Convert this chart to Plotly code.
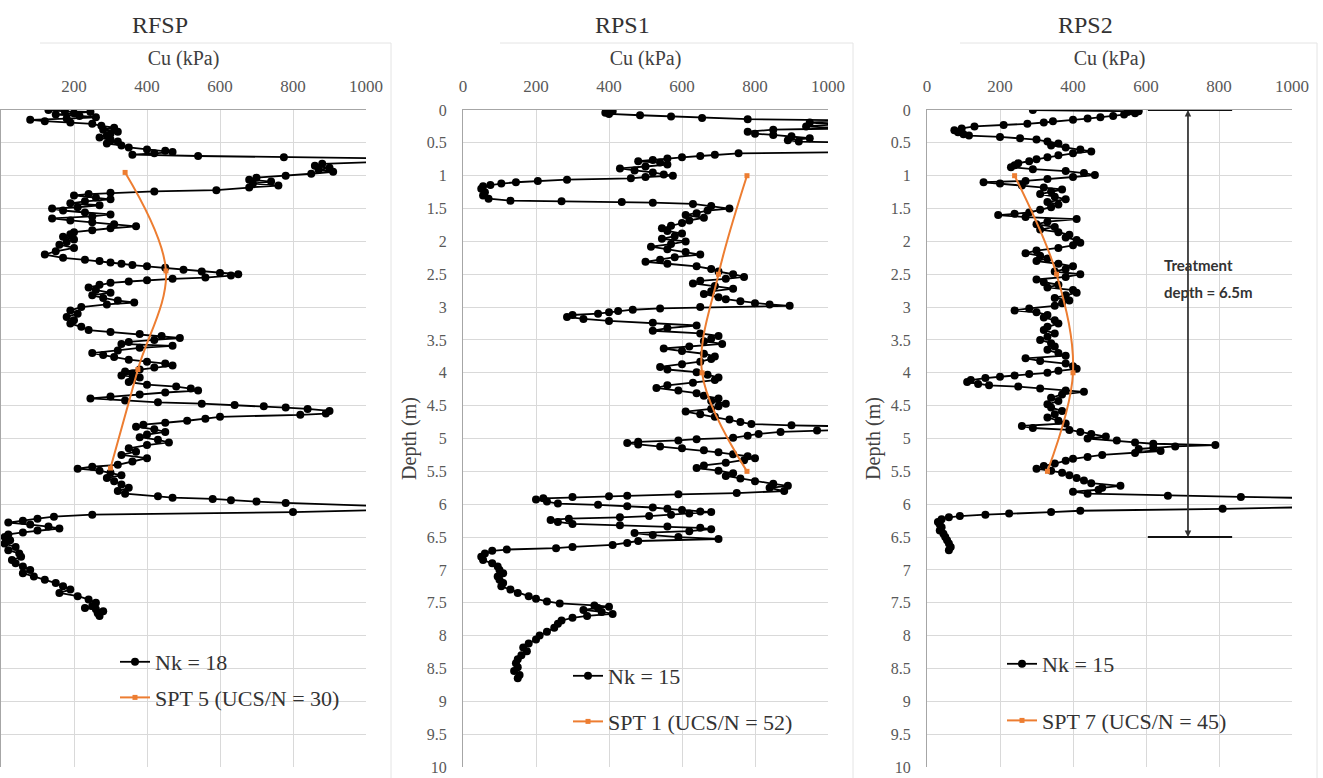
import plotly.graph_objects as go

# ---------------- DATA ----------------
panel_titles = ["RFSP", "RPS1", "RPS2"]
x_title = "Cu (kPa)"
y_title = "Depth (m)"

# RFSP  (Nk = 18)
rfsp_depth = [0.00,0.02,0.03,0.05,0.07,0.09,0.11,0.13,0.15,0.17,0.19,0.21,0.24,0.27,0.30,0.33,0.36,0.39,0.42,0.45,
              0.48,0.51,0.54,0.57,0.60,0.62,0.64,0.66,0.68,0.70,0.72,0.74,0.78,0.82,0.85,0.88,0.91,0.94,0.97,1.00,
              1.03,1.06,1.09,1.12,1.15,1.18,1.22,1.24,1.26,1.28,1.30,1.33,1.36,1.39,1.42,1.45,1.48,1.50,1.53,1.56,
              1.59,1.62,1.65,1.68,1.71,1.74,1.77,1.80,1.83,1.86,1.89,1.93,1.97,2.01,2.05,2.10,2.15,2.20,2.25,2.28,
              2.30,2.32,2.34,2.36,2.38,2.40,2.43,2.46,2.48,2.50,2.52,2.55,2.57,2.59,2.61,2.63,2.66,2.70,2.74,2.78,
              2.82,2.86,2.90,2.93,2.96,3.00,3.05,3.10,3.15,3.20,3.25,3.30,3.35,3.38,3.41,3.44,3.47,3.50,3.53,3.56,
              3.59,3.62,3.66,3.70,3.73,3.76,3.80,3.83,3.86,3.89,3.92,3.95,3.98,4.01,4.04,4.07,4.10,4.14,4.18,4.21,
              4.24,4.27,4.30,4.33,4.36,4.39,4.42,4.45,4.47,4.49,4.51,4.53,4.55,4.58,4.62,4.64,4.67,4.70,4.73,4.76,
              4.79,4.82,4.86,4.90,4.94,4.98,5.02,5.06,5.10,5.15,5.20,5.25,5.30,5.35,5.40,5.43,5.46,5.49,5.52,5.56,
              5.60,5.65,5.70,5.75,5.80,5.84,5.88,5.90,5.92,5.94,5.96,5.98,6.04,6.08,6.12,6.16,6.19,6.22,6.25,6.28,
              6.31,6.34,6.37,6.40,6.43,6.46,6.50,6.55,6.60,6.65,6.70,6.75,6.80,6.85,6.90,6.95,7.00,7.05,7.10,7.15,
              7.20,7.25,7.30,7.35,7.40,7.45,7.50,7.55,7.58,7.60,7.63,7.66,7.70]
rfsp_cu = [130,175,245,200,150,215,260,180,80,120,190,250,275,310,280,320,300,290,270,300,
           320,290,330,350,400,450,470,420,360,540,775,1100,1100,880,860,900,870,910,850,780,
           700,680,740,690,760,680,590,420,300,240,200,260,300,230,190,270,210,140,170,230,
           300,250,140,190,250,310,370,300,250,200,190,170,200,180,160,200,150,120,170,230,
           270,300,330,360,400,450,500,550,600,650,630,560,470,400,350,300,270,240,260,300,
           250,280,320,365,290,220,190,210,180,200,190,220,240,300,380,440,490,420,350,330,
           470,380,320,250,280,310,350,400,450,470,420,380,340,360,330,380,360,350,400,480,
           520,540,450,380,300,245,340,430,550,640,720,780,840,900,890,820,600,560,510,450,
           390,370,420,450,400,380,430,460,400,350,370,330,400,360,320,250,210,270,300,330,
           290,310,330,350,320,340,430,470,580,630,700,780,1100,1100,800,250,145,100,60,20,
           80,130,160,100,60,20,10,25,10,40,20,50,55,30,40,60,80,60,90,120,
           150,170,190,160,210,240,260,250,230,260,280,265,270]

# RPS1  (Nk = 15)
rps1_depth = [0.00,0.02,0.04,0.06,0.08,0.10,0.12,0.14,0.16,0.19,0.22,0.25,0.28,0.30,0.33,0.36,0.38,0.40,0.43,0.46,
              0.48,0.50,0.55,0.60,0.64,0.66,0.68,0.70,0.72,0.74,0.76,0.78,0.80,0.83,0.86,0.89,0.92,0.95,0.98,1.00,
              1.02,1.04,1.06,1.08,1.10,1.12,1.14,1.16,1.20,1.25,1.30,1.35,1.38,1.39,1.40,1.41,1.43,1.46,1.50,1.53,
              1.57,1.60,1.64,1.68,1.72,1.76,1.80,1.84,1.88,1.92,1.96,2.00,2.04,2.08,2.12,2.16,2.20,2.24,2.28,2.31,
              2.34,2.38,2.42,2.46,2.50,2.54,2.57,2.60,2.64,2.68,2.72,2.76,2.80,2.85,2.88,2.91,2.94,2.96,2.98,3.00,
              3.02,3.04,3.06,3.08,3.10,3.12,3.15,3.18,3.21,3.24,3.28,3.32,3.36,3.40,3.44,3.48,3.52,3.56,3.60,3.63,
              3.67,3.71,3.75,3.79,3.83,3.87,3.91,3.95,3.99,4.03,4.07,4.11,4.15,4.19,4.23,4.27,4.31,4.35,4.39,4.43,
              4.47,4.51,4.55,4.59,4.63,4.67,4.71,4.75,4.78,4.80,4.82,4.86,4.88,4.90,4.93,4.96,4.99,5.01,5.03,5.05,
              5.07,5.09,5.12,5.15,5.18,5.21,5.24,5.27,5.30,5.33,5.37,5.41,5.45,5.49,5.53,5.57,5.61,5.65,5.69,5.72,
              5.75,5.80,5.83,5.85,5.87,5.88,5.89,5.91,5.93,5.96,5.99,6.01,6.03,6.05,6.07,6.09,6.11,6.12,6.14,6.16,
              6.18,6.20,6.22,6.24,6.27,6.30,6.32,6.34,6.36,6.38,6.41,6.44,6.47,6.50,6.53,6.56,6.59,6.62,6.65,6.67,
              6.69,6.71,6.75,6.80,6.85,6.90,6.95,7.00,7.05,7.10,7.15,7.20,7.25,7.30,7.35,7.40,7.44,7.48,7.51,7.54,
              7.56,7.58,7.61,7.64,7.67,7.70,7.73,7.77,7.82,7.88,7.94,8.00,8.06,8.12,8.18,8.24,8.30,8.36,8.42,8.48,
              8.54,8.60,8.65]
rps1_cu = [400,410,390,400,485,570,655,780,1100,950,1020,940,1050,850,780,800,850,900,950,890,
           920,1100,1100,1100,1100,755,690,650,600,560,520,480,540,560,500,430,470,520,550,575,
           500,460,285,205,145,105,75,55,50,60,55,70,130,270,435,520,630,680,730,670,
           640,610,660,620,600,570,545,560,600,580,545,610,570,515,560,610,650,580,540,500,
           560,640,680,700,740,770,720,650,630,690,740,680,660,700,720,760,800,840,895,650,
           540,465,425,400,370,300,285,330,400,520,640,560,520,650,700,680,660,710,620,550,
           600,660,690,680,650,600,540,560,640,670,700,690,630,560,530,590,640,660,700,680,
           720,700,680,610,650,690,730,760,790,900,1100,1100,970,870,810,780,740,640,590,480,
           450,480,540,600,660,700,740,780,800,770,720,660,640,700,740,720,760,800,850,890,
           840,880,750,590,450,400,300,220,200,230,260,370,450,520,560,600,650,680,620,570,
           510,430,290,240,260,300,430,560,650,680,620,470,520,590,700,480,450,410,300,255,
           120,80,60,50,55,80,95,100,110,95,100,110,105,130,150,180,200,230,265,360,
           400,370,330,380,410,340,300,270,260,250,230,210,200,180,165,175,160,150,145,150,
           140,155,150]

# RPS2  (Nk = 15)
rps2_depth = [0.00,0.01,0.02,0.03,0.05,0.07,0.09,0.11,0.13,0.15,0.17,0.19,0.21,0.23,0.25,0.28,0.31,0.34,0.37,0.39,
              0.41,0.43,0.45,0.48,0.51,0.54,0.57,0.60,0.63,0.66,0.69,0.72,0.75,0.78,0.81,0.84,0.87,0.90,0.93,0.96,
              0.99,1.02,1.05,1.08,1.10,1.12,1.15,1.18,1.21,1.24,1.28,1.32,1.36,1.40,1.44,1.48,1.52,1.56,1.58,1.60,
              1.63,1.66,1.70,1.74,1.78,1.82,1.86,1.90,1.94,1.98,2.02,2.06,2.10,2.14,2.18,2.22,2.26,2.30,2.34,2.38,
              2.42,2.46,2.50,2.54,2.58,2.62,2.66,2.70,2.74,2.78,2.82,2.86,2.90,2.94,2.98,3.02,3.05,3.08,3.12,3.16,
              3.20,3.25,3.30,3.35,3.40,3.45,3.50,3.55,3.60,3.65,3.70,3.74,3.78,3.82,3.86,3.90,3.94,3.97,4.00,4.02,
              4.04,4.06,4.08,4.11,4.14,4.17,4.19,4.21,4.24,4.27,4.29,4.33,4.38,4.43,4.48,4.53,4.58,4.63,4.68,4.73,
              4.77,4.81,4.84,4.87,4.90,4.93,4.97,5.00,5.03,5.06,5.08,5.10,5.12,5.14,5.16,5.19,5.22,5.25,5.28,5.31,
              5.34,5.38,5.42,5.46,5.49,5.52,5.56,5.60,5.64,5.68,5.72,5.75,5.78,5.81,5.84,5.87,5.89,5.91,6.04,6.07,
              6.10,6.12,6.14,6.16,6.18,6.20,6.23,6.27,6.31,6.35,6.40,6.45,6.50,6.55,6.60,6.65,6.70]
rps2_cu = [290,560,580,550,570,540,510,475,440,400,345,320,275,210,130,95,75,85,100,115,
           200,255,300,330,360,340,380,420,450,400,360,330,300,280,250,240,230,290,380,430,
           460,400,330,270,155,200,260,320,370,340,310,350,380,330,360,340,310,280,240,195,
           270,410,330,300,350,310,360,390,380,410,420,400,360,300,270,310,330,300,360,400,
           380,350,420,380,300,320,360,330,400,410,380,350,390,370,350,280,240,300,330,320,
           350,360,330,320,350,330,310,340,350,330,360,380,270,310,380,400,410,360,330,280,
           240,200,160,120,110,140,170,250,310,380,430,370,340,360,330,340,370,350,330,360,
           380,260,290,390,420,450,490,440,520,570,620,790,680,620,580,640,570,480,440,400,
           380,350,320,300,340,370,390,410,430,450,530,480,470,400,440,660,860,1100,1100,810,
           420,340,225,160,90,60,40,30,35,40,35,45,50,55,60,65,60]

# SPT-derived Cu (orange series)
spt5_depth = [0.95, 2.45, 3.95, 5.45]
spt5_cu = [340, 452, 375, 300]
spt1_depth = [1.0, 2.5, 4.0, 5.5]
spt1_cu = [778, 700, 655, 778]
spt7_depth = [1.0, 2.5, 4.0, 5.5]
spt7_cu = [240, 355, 400, 330]

nk_names = ["Nk = 18", "Nk = 15", "Nk = 15"]
spt_names = ["SPT 5 (UCS/N = 30)", "SPT 1 (UCS/N = 52)", "SPT 7 (UCS/N = 45)"]

# treatment depth annotation (RPS2)
treat_depth = 6.5
treat_x0, treat_x1, treat_xa = 605, 836, 715

# ---------------- FIGURE ----------------
W, H = 1323, 778
def fx(p): return p / W
def fy(p): return 1 - p / H

SERIF = "Liberation Serif"
BLACK = "#000000"
ORANGE = "#ED7D31"
GRID = "#d9d9d9"
AXL = "#a6a6a6"

fig = go.Figure()
cu_sets = [(rfsp_depth, rfsp_cu), (rps1_depth, rps1_cu), (rps2_depth, rps2_cu)]
spt_sets = [(spt5_depth, spt5_cu), (spt1_depth, spt1_cu), (spt7_depth, spt7_cu)]
axes_ids = [("x", "y", "legend"), ("x2", "y2", "legend2"), ("x3", "y3", "legend3")]

for i in range(3):
    xa, ya, lg = axes_ids[i]
    d, c = cu_sets[i]
    fig.add_trace(go.Scatter(x=c, y=d, mode="lines+markers", name=nk_names[i],
                             line=dict(color=BLACK, width=1.8),
                             marker=dict(color=BLACK, size=8),
                             xaxis=xa, yaxis=ya, legend=lg, legendgroup=f"a{i}"))
    d2, c2 = spt_sets[i]
    fig.add_trace(go.Scatter(x=c2, y=d2, mode="lines+markers", name=spt_names[i],
                             line=dict(color=ORANGE, width=2, shape="spline"),
                             marker=dict(color=ORANGE, size=5, symbol="square"),
                             xaxis=xa, yaxis=ya, legend=lg, legendgroup=f"b{i}"))

x_domains = [(1, 366), (463, 828), (927, 1292)]
ydom = [fy(767), fy(110)]

for i in range(3):
    sfx = "" if i == 0 else str(i + 1)
    xd = x_domains[i]
    xaxis = dict(domain=[fx(xd[0]), fx(xd[1])], range=[0, 1000], side="top",
                 anchor="y" + sfx, showgrid=True, gridcolor=GRID, gridwidth=1,
                 showline=True, linecolor=AXL, linewidth=1, zeroline=False,
                 ticks="", ticklabelstandoff=10, automargin=False, ticklabeloverflow="allow",
                 tickfont=dict(family=SERIF, size=17, color="#595959"),
                 title=dict(text=x_title, font=dict(family=SERIF, size=20, color="#404040"),
                            standoff=6),
                 fixedrange=True)
    if i == 0:
        xaxis["tickvals"] = [200, 400, 600, 800, 1000]
    else:
        xaxis["tickvals"] = [0, 200, 400, 600, 800, 1000]
    yaxis = dict(domain=ydom, range=[10, 0], anchor="x" + sfx,
                 tickvals=[k * 0.5 for k in range(21)],
                 ticktext=[("%g" % (k * 0.5)) for k in range(21)],
                 showgrid=True, gridcolor=GRID, gridwidth=1,
                 showline=True, linecolor=AXL, linewidth=1, zeroline=False,
                 ticks="", ticklabelstandoff=12, automargin=False, ticklabeloverflow="allow",
                 tickfont=dict(family=SERIF, size=16, color="#595959"),
                 fixedrange=True)
    if i == 0:
        yaxis["showticklabels"] = False
    else:
        yaxis["title"] = dict(text=y_title, font=dict(family=SERIF, size=20, color="#404040"),
                              standoff=4)
    fig.layout["xaxis" + sfx] = xaxis
    fig.layout["yaxis" + sfx] = yaxis

# legends
leg_x = [115, 568, 1002]
leg_y = [641, 655, 643]
leg_gap = [4, 14, 25]
for i in range(3):
    key = "legend" if i == 0 else "legend" + str(i + 1)
    fig.layout[key] = dict(x=fx(leg_x[i]), y=fy(leg_y[i]), xanchor="left", yanchor="top",
                           xref="paper", yref="paper",
                           bgcolor="rgba(0,0,0,0)", borderwidth=0,
                           font=dict(family=SERIF, size=22, color="#333333"),
                           traceorder="grouped", tracegroupgap=leg_gap[i],
                           itemwidth=30)

# panel titles
title_x = [160, 622, 1085]
annotations = []
for i in range(3):
    annotations.append(dict(text=panel_titles[i], x=fx(title_x[i]), y=fy(25), xref="paper", yref="paper",
                            xanchor="center", yanchor="middle", showarrow=False,
                            font=dict(family=SERIF, size=24, color="#333333")))

# treatment depth arrow (double-headed)
annotations.append(dict(x=treat_xa, y=treat_depth, ax=treat_xa, ay=0, xref="x3", yref="y3",
                        axref="x3", ayref="y3", showarrow=True, arrowhead=2, arrowsize=1,
                        arrowwidth=1.3, arrowcolor="#333333", text=""))
annotations.append(dict(x=treat_xa, y=0, ax=treat_xa, ay=treat_depth, xref="x3", yref="y3",
                        axref="x3", ayref="y3", showarrow=True, arrowhead=2, arrowsize=1,
                        arrowwidth=1.3, arrowcolor="#333333", text=""))
annotations.append(dict(text="<b>Treatment</b>", x=fx(1162), y=fy(265), xref="paper", yref="paper",
                        xanchor="left", yanchor="middle", showarrow=False,
                        font=dict(family="Lato", size=15, color="#333333")))
annotations.append(dict(text="<b>depth = 6.5m</b>", x=fx(1162), y=fy(292), xref="paper", yref="paper",
                        xanchor="left", yanchor="middle", showarrow=False,
                        font=dict(family="Lato", size=15, color="#333333")))

shapes = [
    dict(type="line", xref="x3", yref="y3", x0=treat_x0, x1=treat_x1, y0=0, y1=0,
         line=dict(color="#111111", width=2)),
    dict(type="line", xref="x3", yref="y3", x0=treat_x0, x1=treat_x1, y0=treat_depth, y1=treat_depth,
         line=dict(color="#111111", width=2)),
]
# faint chart-area borders
BORDER = "#e4e4e4"
for (x0, y0, x1, y1) in [(40, 43, 391, 43), (391, 43, 391, 778),
                         (500, 43, 853, 43), (853, 43, 853, 778),
                         (960, 43, 1317, 43), (1317, 43, 1317, 778)]:
    shapes.append(dict(type="line", xref="paper", yref="paper", x0=fx(x0), x1=fx(x1),
                       y0=fy(y0), y1=fy(y1), line=dict(color=BORDER, width=1)))

fig.update_layout(width=W, height=H, margin=dict(l=0, r=0, t=0, b=0, autoexpand=False),
                  paper_bgcolor="white", plot_bgcolor="white",
                  annotations=annotations, shapes=shapes, showlegend=True)

fig.write_html("out.html", config={"displayModeBar": False},
               post_script="document.body.style.margin='0';document.body.style.padding='0';")
